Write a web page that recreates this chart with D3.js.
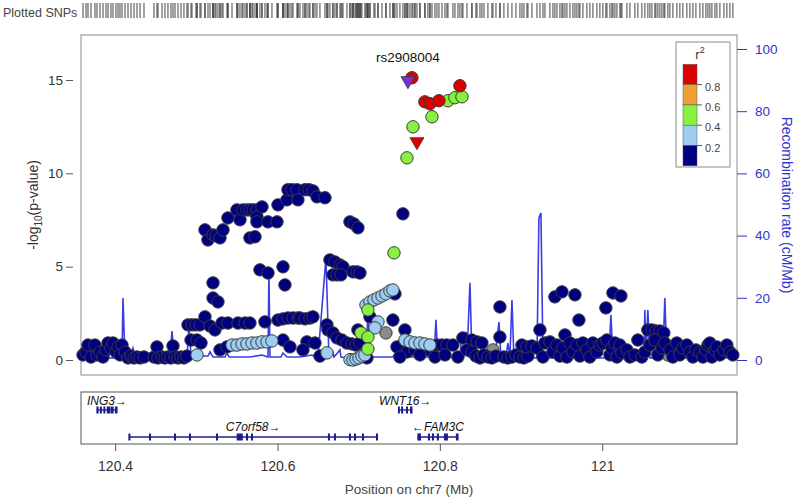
<!DOCTYPE html>
<html><head><meta charset="utf-8">
<script src="https://cdn.jsdelivr.net/npm/d3@7"></script>
<style>body{margin:0;background:#fff}svg{display:block}</style>
</head><body>
<svg id="c" width="796" height="501"></svg>
<script>
// ---------- data ----------
const xTicks = [120.4, 120.6, 120.8, 121];
const yTicks = [0, 5, 10, 15];
const recTicks = [0, 20, 40, 60, 80, 100];
const r2Breaks = [0.2, 0.4, 0.6, 0.8];
const r2Colors = ["#000080", "#9dcdf3", "#88f040", "#efa030", "#dd0000"];

const snpPos = [
 120.3605,120.3642,120.3666,120.3703,120.3752,120.3777,120.3814,120.3851,120.3888,120.3913,120.3949,120.3974,120.4011,120.4036,120.4060,120.4085,120.4122,120.4159,120.4196,120.4233,120.4270,120.4307,120.4356,120.4479,120.4516,120.4528,120.4578,120.4614,120.4651,120.4688,120.4713,120.4738,120.4775,120.4812,120.4848,120.4885,
 120.4898,120.4947,120.4996,120.5045,120.5107,120.4935,120.5009,120.5058,120.5009,120.5206,120.5267,120.5206,120.5169,120.5230,120.5316,120.5390,120.5292,120.5378,120.5513,120.5600,120.5661,120.5846,
 120.5440,120.5501,120.5563,120.5624,120.5686,120.5747,120.5809,120.5871,120.5932,
 120.6006,120.6068,120.6129,120.6191,120.6252,120.6068,120.6154,120.5784,120.5883,120.6068,120.6092,
 120.5107,120.5144,120.5206,120.5243,120.5292,120.5329,120.5390,120.5501,120.5538,120.5575,120.5624,120.5661,120.5698,120.5747,120.5747,120.5747,120.5809,120.5661,120.5723,120.5883,120.5994,120.6006,120.6117,120.6129,120.6178,120.6240,120.6252,120.6339,120.6388,120.6437,120.6486,120.6585,120.6893,120.6942,120.6991,
 120.6277,120.6339,120.6400,120.6437,120.6609,120.6622,120.6683,120.6646,120.6708,120.6770,120.6807,120.6683,120.6733,120.6782,120.6930,120.6979,120.7016,120.6363,120.6462,120.6314,120.6523,120.6609,120.6733,120.6794,120.6856,120.6917,120.6967,120.7016,120.6991,
 120.6893,120.6930,120.6967,120.7004,120.7040,120.7077,120.7102,120.7028,120.7114,120.7114,120.7114,120.7139,
 120.7090,120.7139,120.7188,120.7238,120.7287,120.7336,120.7385,120.7422,120.7447,120.7238,120.7201,120.7336,120.7422,120.7472,120.7435,120.7545,
 120.7656,120.7816,120.7878,120.7989,120.8247,120.8100,120.8186,120.8272,120.7903,120.7669,120.7595,
 120.7570,120.7570,120.7632,120.7693,120.7755,120.7816,120.7878,120.7595,120.7693,120.7853,120.7964,120.8026,120.8087,120.8161,120.8284,120.8395,120.8457,120.8518,120.7508,120.7755,120.7940,120.8063,120.8223,120.8334,
 120.8395,120.8444,120.8494,120.8543,120.8592,120.8641,120.8691,120.8654,120.8740,120.8740,120.8789,120.8838,120.8888,120.8937,120.8986,120.9036,120.9085,120.9011,120.9073,120.9134,120.9196,120.9233,
 120.9270,120.9294,120.9356,120.9393,120.9417,120.9442,120.9479,120.9504,120.9516,120.9541,120.9565,120.9602,120.9639,120.9664,120.9688,120.9713,120.9725,120.9762,120.9811,120.9848,120.9885,120.9934,120.9971,
 121.0008,121.0045,121.0058,121.0095,121.0119,121.0132,121.0156,121.0181,121.0218,121.0230,121.0242,121.0304,121.0341,121.0402,121.0439,121.0488,121.0525,
 121.0562,121.0612,121.0661,121.0710,121.0759,121.0587,121.0648,121.0685,121.0735,121.0771,121.0809,121.0833,121.0870,121.0919,121.0956,121.0993,121.1042,121.1080,121.1117,121.1154,
 121.1203,121.1240,121.1277,121.1302,121.1326,121.1351,121.1388,121.1412,121.1449,121.1499,121.1535,121.1572,121.1609
];
const snpLogP = [
 0.27,0.43,0.80,0.16,0.80,0.27,0.43,0.16,0.54,0.91,0.64,0.91,0.43,0.70,0.27,0.80,0.43,0.11,0.21,0.11,0.16,0.11,0.16,0.16,0.70,0.11,0.16,0.11,0.16,0.11,0.75,0.16,0.11,0.16,0.11,0.21,
 1.88,1.88,1.88,1.88,2.31,1.07,1.07,0.91,0.27,3.32,3.11,4.13,1.82,1.61,1.98,1.98,0.54,0.70,1.98,1.98,1.98,2.04,
 0.80,0.80,0.86,0.86,0.91,0.91,0.97,0.97,1.02,
 2.14,2.20,2.25,2.25,2.25,1.07,0.70,4.83,4.66,4.99,4.02,
 6.97,6.43,6.70,6.65,6.54,6.97,7.61,8.04,7.51,8.04,8.04,8.04,8.04,8.04,7.67,7.40,8.20,6.54,6.60,7.40,7.40,8.31,8.58,9.12,9.12,9.12,8.58,9.12,9.12,9.06,8.74,8.69,7.40,7.29,7.08,
 2.25,2.20,2.25,2.31,1.88,1.61,1.45,5.36,5.25,5.09,4.99,4.56,4.56,4.56,4.72,4.72,4.66,0.97,0.91,0.54,0.21,0.38,1.18,1.07,0.91,0.86,0.80,0.91,1.61,
 0.02,0.00,0.05,0.11,0.21,0.27,0.11,1.45,1.23,2.68,0.59,2.31,
 2.95,3.11,3.22,3.32,3.43,3.54,3.70,3.75,3.54,2.04,1.72,1.45,2.14,0.70,5.74,7.83,
 15.12,13.83,13.73,13.89,14.69,13.89,14.05,14.10,13.03,12.49,10.83,
 1.61,1.07,0.97,0.91,0.91,0.86,0.80,0.43,0.54,0.54,0.80,0.80,0.80,0.80,1.18,1.07,0.97,0.91,0.16,0.27,0.16,0.27,0.16,0.54,
 0.43,0.21,0.11,0.27,0.16,0.11,0.21,0.54,2.84,1.23,0.16,0.11,0.16,0.27,0.16,0.11,0.21,0.80,0.70,0.75,0.64,1.61,
 0.16,0.91,0.97,0.43,3.38,0.80,0.21,3.65,0.64,1.34,0.16,0.91,0.43,3.49,0.80,2.14,0.21,0.91,0.54,0.16,0.91,0.43,0.80,
 0.91,2.79,1.07,0.27,0.64,3.59,0.91,0.16,0.80,3.43,0.38,0.54,0.16,0.27,1.07,0.16,0.43,
 1.61,1.61,1.55,1.55,1.45,0.80,1.07,0.27,0.64,0.91,0.27,0.54,0.16,0.91,0.27,0.64,0.80,0.43,0.16,0.54,
 0.43,0.16,0.54,0.80,0.91,0.16,0.54,0.70,0.27,0.54,0.80,0.43,0.27
];
const snpR2 = [
 0.1,0.1,0.1,0.1,0.1,0.1,0.1,0.1,0.1,0.1,0.1,0.1,0.1,0.1,0.1,0.1,0.1,0.1,0.1,0.1,0.1,0.1,0.1,0.1,0.1,0.1,0.1,0.1,0.1,0.1,0.1,0.1,0.1,0.1,0.1,0.1,
 0.1,0.1,0.1,0.1,0.1,0.1,0.1,0.1,0.3,0.1,0.1,0.1,0.1,0.1,0.1,0.1,0.1,0.1,0.1,0.1,0.1,0.1,
 0.3,0.3,0.3,0.3,0.3,0.3,0.3,0.3,0.3,
 0.1,0.1,0.1,0.1,0.1,0.1,0.1,0.1,0.1,0.1,0.1,
 0.1,0.1,0.1,0.1,0.1,0.1,0.1,0.1,0.1,0.1,0.1,0.1,0.1,0.1,0.1,0.1,0.1,0.1,0.1,0.1,0.1,0.1,0.1,0.1,0.1,0.1,0.1,0.1,0.1,0.1,0.1,0.1,0.1,0.1,0.1,
 0.1,0.1,0.1,0.1,0.1,0.1,0.1,0.1,0.1,0.1,0.1,0.1,0.1,0.1,0.1,0.1,0.1,0.1,0.1,0.1,0.1,0.3,0.1,0.1,0.1,0.1,0.1,0.1,0.1,
 0.3,0.3,0.3,0.3,0.3,0.3,0.1,0.5,0.5,0.5,0.5,0.1,
 0.3,0.3,0.3,0.3,0.3,0.3,0.3,0.3,0.1,0.3,0.3,null,0.1,0.1,0.5,0.1,
 0.9,0.9,0.9,0.9,0.9,0.5,0.5,0.5,0.5,0.5,0.5,
 0.1,0.3,0.3,0.3,0.3,0.3,0.3,0.1,0.1,0.1,0.1,0.1,0.1,0.1,0.1,0.1,0.1,0.1,0.1,0.1,0.1,0.1,0.1,0.1,
 0.1,0.1,0.1,0.1,0.1,0.1,0.1,null,0.1,0.1,0.1,0.1,0.1,0.1,0.1,0.1,0.1,0.1,0.1,0.1,0.1,0.1,
 0.1,0.1,0.1,0.1,0.1,0.1,0.1,0.1,0.1,0.1,0.1,0.1,0.1,0.1,0.1,0.1,0.1,0.1,0.1,0.1,0.1,0.1,0.1,
 0.1,0.1,0.1,0.1,0.1,0.1,0.1,0.1,0.1,0.1,0.1,0.1,0.1,0.1,0.1,0.1,0.1,
 0.1,0.1,0.1,0.1,0.1,0.1,0.1,0.1,0.1,0.1,null,0.1,0.1,0.1,0.1,0.1,0.1,0.1,0.1,0.1,
 0.1,0.1,0.1,0.1,0.1,0.1,0.1,0.1,0.1,0.1,0.1,0.1,0.1
];
// triangle-marked SNPs (last one is the lead SNP)
const triPos = [120.7718, 120.7607];
const triLogP = [11.64, 14.91];
const triR2 = [0.9, 1.0];
const leadName = "rs2908004";

const recPos = [120.3580,120.3814,120.3937,120.4085,120.4097,120.4122,120.4183,120.4220,120.4245,120.4430,120.4553,120.4676,120.4701,120.4725,120.4885,120.4910,120.4935,120.5045,120.5144,120.5169,120.5206,120.5353,120.5378,120.5403,120.5661,120.5809,120.5883,120.5895,120.5908,120.6043,120.6068,120.6117,120.6277,120.6425,120.6462,120.6499,120.6597,120.6634,120.6683,120.6696,120.6770,120.6782,120.6893,120.7090,120.7114,120.7139,120.7422,120.7459,120.7570,120.7607,120.7927,120.7952,120.7976,120.8247,120.8272,120.8346,120.8371,120.8395,120.8678,120.8728,120.8752,120.8814,120.8838,120.8863,120.8888,120.8912,120.9196,120.9220,120.9245,120.9270,121.0082,121.0107,121.0132,121.0513,121.0525,121.0538,121.0562,121.0587,121.0747,121.0771,121.0796,121.1659];
const recRate = [0.96,0.96,0.64,0.64,19.9,0.64,0.96,3.86,0.96,0.96,1.29,1.29,9.32,0.96,0.96,10.6,1.61,1.29,1.29,2.57,0.96,0.96,2.25,0.96,0.96,1.61,0.96,28.3,0.96,0.96,2.25,0.96,0.96,1.61,0.96,0.96,32.8,0.96,2.57,0.96,3.22,0.96,0.64,0.96,15.1,0.96,0.96,2.57,2.57,0.96,0.96,12.9,0.96,0.96,8.68,8.68,24.8,0.96,0.96,12.2,0.96,0.96,5.47,0.96,19.3,0.96,0.64,45.7,47.3,0.64,0.64,14.5,0.64,0.64,16.1,0.64,16.1,0.64,0.64,19.9,0.64,0.64];

const geneName = ["ING3", "C7orf58", "WNT16", "FAM3C"];
const geneStart = [120.3777, 120.4171, 120.7491, 120.7730];
const geneEnd = [120.4023, 120.7231, 120.7656, 120.8223];
const geneStrand = ["+", "+", "+", "-"];
const geneRow = [0, 1, 0, 1];
const geneExons = [
 [[120.3777,120.3790],[120.3820,120.3830],[120.3863,120.3872],[120.3905,120.3935],[120.3955,120.3975],[120.4005,120.4023]],
 [[120.4171,120.4181],[120.4425,120.4435],[120.4733,120.4743],[120.4917,120.4927],[120.5250,120.5260],[120.5505,120.5565],[120.5620,120.5630],[120.5681,120.5691],[120.6629,120.6639],[120.6703,120.6713],[120.6888,120.6898],[120.6950,120.6960],[120.7048,120.7058],[120.7221,120.7231]],
 [[120.7491,120.7500],[120.7530,120.7540],[120.7590,120.7600],[120.7640,120.7656]],
 [[120.7730,120.7745],[120.7750,120.7760],[120.7861,120.7871],[120.7910,120.7920],[120.7971,120.7981],[120.8058,120.8068],[120.8082,120.8092],[120.8205,120.8223]]
];

// ---------- drawing ----------
const FONT = "'Liberation Sans', Arial, Helvetica, sans-serif";
const svg = d3.select("#c").style("font-family", FONT);
const L = 81, R = 737, T = 35, B = 375;
const x = d3.scaleLinear().domain([120.358, 121.166]).range([L, R]);
const y = d3.scaleLinear().domain([-0.804, 17.41]).range([B, T]);
const yr = d3.scaleLinear().domain([-4.82, 104.5]).range([B, T]);
const colorOf = r => r == null ? "#8a8a8a" : d3.scaleThreshold().domain(r2Breaks).range(r2Colors)(r);

// rug
svg.append("text").attr("x", 3).attr("y", 17).attr("font-size", 12.5).attr("fill", "#444").text("Plotted SNPs");
svg.append("g").selectAll("line").data(snpPos.concat(triPos)).join("line")
  .attr("x1", d => x(d)).attr("x2", d => x(d)).attr("y1", 3).attr("y2", 18)
  .attr("stroke", "#333").attr("stroke-opacity", 0.7).attr("stroke-width", 1.3);

// plot box
svg.append("rect").attr("x", L).attr("y", T).attr("width", R - L).attr("height", B - T)
  .attr("fill", "none").attr("stroke", "#8c8c8c").attr("stroke-width", 1);

// clip
svg.append("clipPath").attr("id", "pc").append("rect").attr("x", L).attr("y", T).attr("width", R - L).attr("height", B - T);

// recombination line
svg.append("path").attr("clip-path", "url(#pc)")
  .datum(recPos.map((p, i) => [p, recRate[i]]))
  .attr("d", d3.line().x(d => x(d[0])).y(d => yr(d[1])))
  .attr("fill", "none").attr("stroke", "#3c3ce6").attr("stroke-width", 1.6);

// points
const idx = d3.range(snpPos.length).sort((a, b) => {
  const ra = snpR2[a] == null ? -1 : snpR2[a], rb = snpR2[b] == null ? -1 : snpR2[b];
  return ra - rb;
});
svg.append("g").selectAll("circle").data(idx).join("circle")
  .attr("cx", i => x(snpPos[i])).attr("cy", i => y(snpLogP[i])).attr("r", 6.2)
  .attr("fill", i => colorOf(snpR2[i])).attr("stroke", "#3a3a3a").attr("stroke-width", 1);

// triangles
const tri = d3.symbol().type(d3.symbolTriangle).size(85);
svg.append("g").selectAll("path").data(triPos.map((p, i) => i)).join("path")
  .attr("d", tri)
  .attr("transform", i => `translate(${x(triPos[i])},${y(triLogP[i]) - 1}) rotate(180)`)
  .attr("fill", i => i === triPos.length - 1 ? "#7b2fd0" : colorOf(triR2[i]))
  .attr("stroke", "#3a3a3a").attr("stroke-width", 0.8);

// lead label
svg.append("text").attr("x", x(triPos[triPos.length - 1])).attr("y", 62).attr("text-anchor", "middle")
  .attr("font-size", 13.5).attr("fill", "#111").text(leadName);

// left axis
const gl = svg.append("g").attr("transform", `translate(73,0)`)
  .call(d3.axisLeft(y).tickValues(yTicks).tickSize(7).tickPadding(3));
gl.select(".domain").remove();
gl.selectAll("line").attr("stroke", "#555");
gl.selectAll("text").attr("font-size", 13.5).attr("fill", "#333").attr("font-family", FONT);

const yl = svg.append("text").attr("transform", `translate(38,${(T + B) / 2}) rotate(-90)`)
  .attr("text-anchor", "middle").attr("font-size", 14).attr("fill", "#333");
yl.append("tspan").text("-log");
yl.append("tspan").attr("font-size", 10).attr("dy", 4).text("10");
yl.append("tspan").attr("dy", -4).text("(p-value)");

// right axis
const gr = svg.append("g").attr("transform", `translate(${R},0)`)
  .call(d3.axisRight(yr).tickValues(recTicks).tickSize(10).tickPadding(8));
gr.select(".domain").remove();
gr.selectAll("line").attr("stroke", "#3333cc");
gr.selectAll("text").attr("font-size", 13.5).attr("fill", "#3333cc").attr("font-family", FONT);
svg.append("text").attr("transform", `translate(782,${(T + B) / 2}) rotate(90)`)
  .attr("text-anchor", "middle").attr("font-size", 14).attr("fill", "#3333cc")
  .text("Recombination rate (cM/Mb)");

// legend
const lg = svg.append("g");
lg.append("rect").attr("x", 676).attr("y", 42).attr("width", 54).attr("height", 125)
  .attr("fill", "#fff").attr("stroke", "#8c8c8c");
const lt = lg.append("text").attr("x", 700).attr("y", 59).attr("text-anchor", "middle").attr("font-size", 13).attr("fill", "#333");
lt.append("tspan").text("r");
lt.append("tspan").attr("font-size", 9).attr("dy", -6).text("2");
const legH = 20.3, legTop = 64.3;
const legCols = r2Colors.slice().reverse();
lg.selectAll("rect.c").data(legCols).join("rect").attr("class", "c")
  .attr("x", 683).attr("y", (d, i) => legTop + i * legH).attr("width", 14).attr("height", legH)
  .attr("fill", d => d).attr("stroke", "#555").attr("stroke-width", 0.5);
const legLab = r2Breaks.slice().reverse();
lg.selectAll("line.t").data(legLab).join("line").attr("class", "t")
  .attr("x1", 697).attr("x2", 702).attr("y1", (d, i) => legTop + (i + 1) * legH).attr("y2", (d, i) => legTop + (i + 1) * legH)
  .attr("stroke", "#555");
lg.selectAll("text.l").data(legLab).join("text").attr("class", "l")
  .attr("x", 705).attr("y", (d, i) => legTop + (i + 1) * legH + 6)
  .attr("font-size", 11).attr("fill", "#444").text(d => d.toFixed(1));

// gene panel
const GT = 392, GB = 444;
svg.append("rect").attr("x", L).attr("y", GT).attr("width", R - L).attr("height", GB - GT)
  .attr("fill", "none").attr("stroke", "#555").attr("stroke-width", 1);
const rowY = [410, 437], labY = [405, 431];
const gg = svg.append("g");
geneName.forEach((n, i) => {
  const cy = rowY[geneRow[i]];
  gg.append("line").attr("x1", x(geneStart[i])).attr("x2", x(geneEnd[i])).attr("y1", cy).attr("y2", cy)
    .attr("stroke", "#1c1c8c").attr("stroke-width", 1.3);
  gg.selectAll(null).data(geneExons[i]).join("rect")
    .attr("x", e => x(e[0]) - 0.6).attr("width", e => Math.max(1.6, x(e[1]) - x(e[0]) + 1.2))
    .attr("y", cy - 3.5).attr("height", 7).attr("fill", "#1c1c8c");
  const mid = x((geneStart[i] + geneEnd[i]) / 2);
  gg.append("text").attr("x", mid).attr("y", labY[geneRow[i]]).attr("text-anchor", "middle")
    .attr("font-size", 12).attr("font-style", "italic").attr("fill", "#111")
    .text(geneStrand[i] === "+" ? n + "\u2192" : "\u2190" + n);
});

// bottom axis
const gb = svg.append("g").attr("transform", `translate(0,${GB})`)
  .call(d3.axisBottom(x).tickValues(xTicks).tickSize(7).tickPadding(10)
    .tickFormat(d => d === 121 ? "121" : d3.format(".1f")(d)));
gb.select(".domain").remove();
gb.selectAll("line").attr("stroke", "#555");
gb.selectAll("text").attr("font-size", 14).attr("fill", "#333").attr("font-family", FONT);
svg.append("text").attr("x", (L + R) / 2).attr("y", 494).attr("text-anchor", "middle")
  .attr("font-size", 13.5).attr("fill", "#444").text("Position on chr7 (Mb)");
</script>
</body></html>
